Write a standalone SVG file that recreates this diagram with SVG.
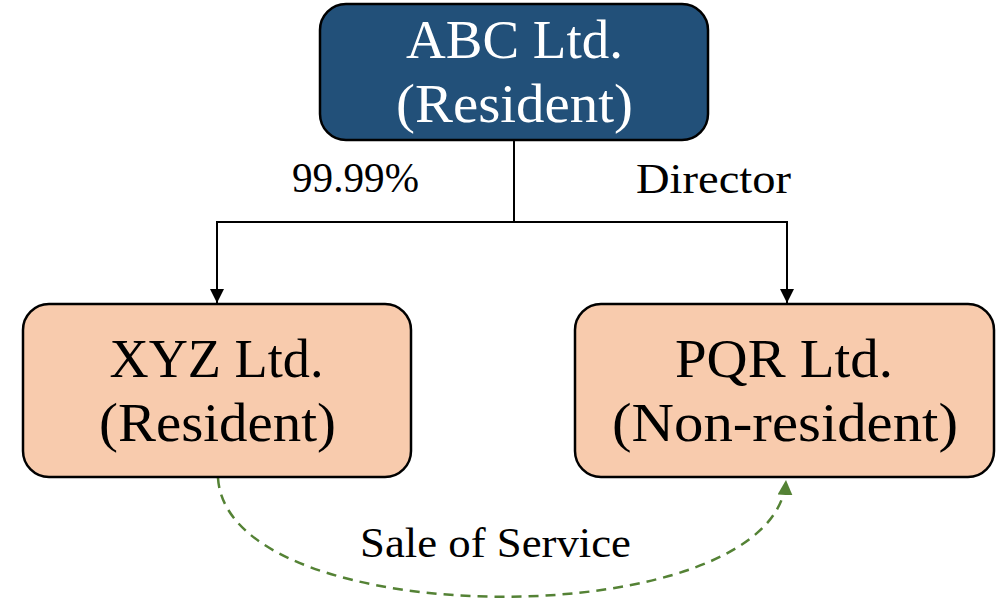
<svg xmlns="http://www.w3.org/2000/svg" width="1000" height="599" viewBox="0 0 1000 599">
<style>
.box{stroke:#000;stroke-width:2.5}
.top{fill:#225079}
.sub{fill:#F8CBAD}
text{font-family:"Liberation Serif","Times New Roman",serif;text-anchor:middle}
.big{font-size:54px}
.lbl{font-size:42px;fill:#000}
.conn{fill:none;stroke:#000;stroke-width:2}
.svc{fill:none;stroke:#548235;stroke-width:2.5;stroke-dasharray:10 7}
</style>
<defs>
<marker id="ab" viewBox="0 0 14 14" refX="14" refY="7" markerWidth="14" markerHeight="14" markerUnits="userSpaceOnUse" orient="auto">
<path d="M0,0 L14,7 L0,14 z" fill="#000"/>
</marker>
<marker id="ag" viewBox="0 0 15 15" refX="15" refY="7.5" markerWidth="15" markerHeight="15" markerUnits="userSpaceOnUse" orient="auto">
<path d="M0,0 L15,7.5 L0,15 z" fill="#548235"/>
</marker>
</defs>
<g id="connectors">
<path class="conn" d="M514,140 V222 H217 V303" marker-end="url(#ab)"/>
<path class="conn" d="M514,222 H787 V303" marker-end="url(#ab)"/>
<path class="svc" d="M218,478 C228,636 776,636 786,480" marker-end="url(#ag)"/>
</g>
<g id="node-abc">
<rect class="box top" x="320" y="4" width="388" height="136" rx="26"/>
<text class="big" x="514.5" y="58" fill="#fff" textLength="217" lengthAdjust="spacingAndGlyphs">ABC Ltd.</text>
<text class="big" x="514.5" y="122" fill="#fff" textLength="237" lengthAdjust="spacingAndGlyphs">(Resident)</text>
</g>
<g id="node-xyz">
<rect class="box sub" x="23" y="304" width="388" height="173" rx="26"/>
<text class="big" x="216.5" y="377" fill="#000" textLength="214" lengthAdjust="spacingAndGlyphs">XYZ Ltd.</text>
<text class="big" x="217.5" y="441" fill="#000" textLength="237" lengthAdjust="spacingAndGlyphs">(Resident)</text>
</g>
<g id="node-pqr">
<rect class="box sub" x="575" y="304" width="419" height="173" rx="26"/>
<text class="big" x="784" y="377" fill="#000" textLength="218" lengthAdjust="spacingAndGlyphs">PQR Ltd.</text>
<text class="big" x="785" y="441" fill="#000" textLength="346" lengthAdjust="spacingAndGlyphs">(Non-resident)</text>
</g>
<g id="labels">
<text class="lbl" x="355.5" y="192" textLength="127" lengthAdjust="spacingAndGlyphs">99.99%</text>
<text class="lbl" x="713.5" y="193" textLength="155" lengthAdjust="spacingAndGlyphs">Director</text>
<text class="lbl" x="495.5" y="557" textLength="271" lengthAdjust="spacingAndGlyphs">Sale of Service</text>
</g>
</svg>
